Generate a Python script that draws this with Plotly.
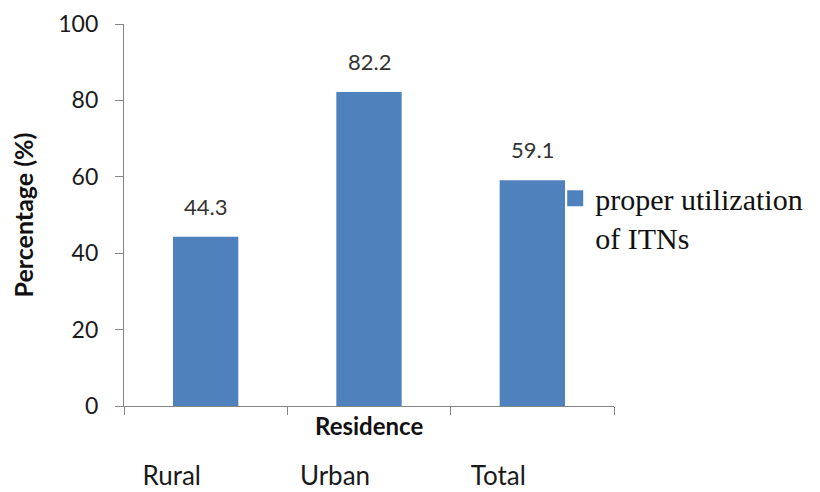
import plotly.graph_objects as go

categories = ["Rural", "Urban", "Total"]
values = [44.3, 82.2, 59.1]
value_labels = ["44.3", "82.2", "59.1"]
series_name = "proper utilization<br>of ITNs"
y_ticks = [0, 20, 40, 60, 80, 100]

BAR = "#4F81BD"
AXIS = "#868686"
TXT = "#1a1a1a"

fig = go.Figure()
fig.add_trace(go.Bar(
    x=categories, y=values, width=0.4,
    marker=dict(color=BAR, line=dict(width=0)),
    showlegend=False, name=series_name,
))
# legend entry (square marker)
fig.add_trace(go.Scatter(
    x=[None], y=[None], mode="markers", name=series_name,
    marker=dict(symbol="square", size=18, color=BAR),
    showlegend=True,
))

for c, v, t in zip(categories, values, value_labels):
    fig.add_annotation(x=c, y=v, text=t, showarrow=False, yanchor="bottom",
                       yshift=15, font=dict(family="Lato", size=22, color="#333333"))

fig.add_annotation(xref="paper", yref="paper", x=0.5, y=0, yshift=-3,
                   text="<b>Residence</b>", showarrow=False, yanchor="top",
                   font=dict(family="Lato", size=24, color="#111111"))

fig.update_layout(
    width=820, height=492,
    margin=dict(l=124, r=206, t=24, b=86, autoexpand=False),
    paper_bgcolor="white", plot_bgcolor="white",
    bargap=0.6,
    legend=dict(x=0.88, y=0.612, xanchor="left", yanchor="top", valign="top",
                font=dict(family="Liberation Serif", size=30, color="#111111"),
                bgcolor="rgba(0,0,0,0)", borderwidth=0, itemsizing="trace"),
    xaxis=dict(
        type="category", range=[-0.5, 2.5], automargin=False,
        showline=True, linecolor=AXIS, linewidth=1.3,
        ticks="outside", tickson="boundaries", ticklen=8, tickcolor=AXIS, tickwidth=1.3,
        showgrid=False, zeroline=False,
        tickfont=dict(family="Lato", size=26, color=TXT),
        ticklabelstandoff=47, ticklabelshift=-34,
    ),
    yaxis=dict(
        range=[0, 100], tickvals=y_ticks, automargin=False,
        showline=True, linecolor=AXIS, linewidth=1.3,
        ticks="outside", ticklen=8, tickcolor=AXIS, tickwidth=1.3,
        showgrid=False, zeroline=False,
        tickfont=dict(family="Lato", size=23, color=TXT),
        ticklabelstandoff=12,
        title=dict(text="<b>Percentage (%)</b>", standoff=17,
                   font=dict(family="Lato", size=25, color="#111111")),
    ),
)

fig.write_html("out.html")
